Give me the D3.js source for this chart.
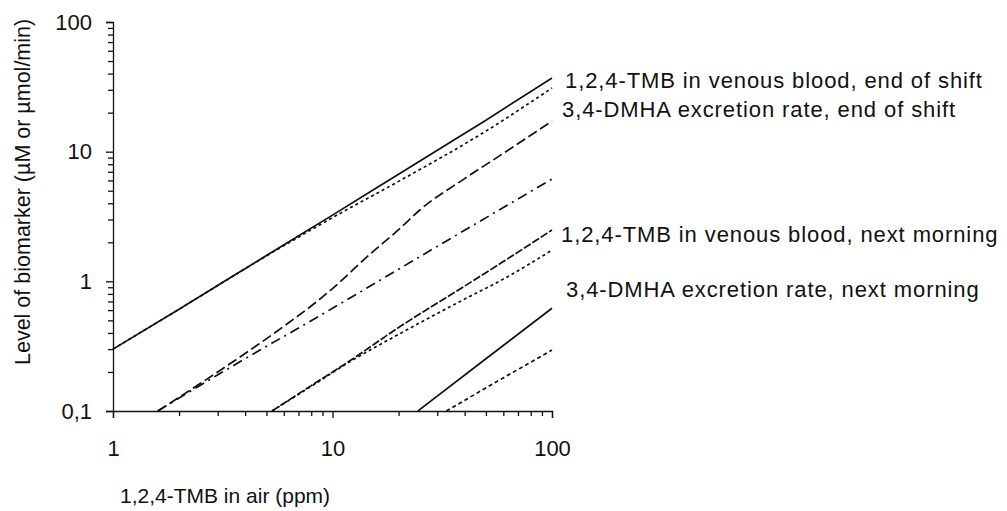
<!DOCTYPE html>
<html lang="en">
<head>
    <meta charset="UTF-8">
    <title>Biomarker levels vs 1,2,4-TMB in air</title>
    <script src="https://d3js.org/d3.v7.min.js"></script>
    <style>
        body {
            margin: 0;
            background: #fff;
        }
        text {
            font-family: "Liberation Sans", Arial, sans-serif;
            fill: #111;
        }
        .axis path, .axis line {
            stroke: #111;
            stroke-width: 1.3px;
        }
        .axis text {
            font-size: 22px;
        }
        .curve {
            fill: none;
            stroke: #111;
            stroke-width: 1.7px;
        }
        .label {
            font-size: 22px;
            letter-spacing: 0.9px;
        }
    </style>
</head>
<body>
    <div id="chart"></div>
    <script>
        // tick values and labels
        const xTicks = [1, 10, 100];
        const xTickLabels = ["1", "10", "100"];
        const yTicks = [0.1, 1, 10, 100];
        const yTickLabels = ["0,1", "1", "10", "100"];

        // curves (ppm in air -> biomarker level)
        const tmbEndX = [1, 2, 5, 10, 20, 50, 100];
        const tmbEndY = [0.3, 0.61, 1.58, 3.24, 6.7, 17.5, 37];
        const tmbEnd2X = [1, 2, 5, 10, 20, 50, 100];
        const tmbEnd2Y = [0.3, 0.61, 1.57, 3.1, 5.9, 14.4, 31];
        const dmhaEndX = [1.6, 3, 6, 8.5, 10, 15, 20, 25, 40, 60, 100];
        const dmhaEndY = [0.1, 0.2, 0.45, 0.7, 0.88, 1.65, 2.5, 3.55, 6.2, 9.7, 17.2];
        const dmhaEnd2X = [1.6, 3, 10, 30, 100];
        const dmhaEnd2Y = [0.1, 0.19, 0.62, 1.86, 6.15];
        const tmbMornX = [5.3, 8, 12, 20, 40, 60, 100];
        const tmbMornY = [0.1, 0.157, 0.244, 0.44, 0.92, 1.42, 2.49];
        const tmbMorn2X = [5.3, 8, 12, 20, 40, 60, 100];
        const tmbMorn2Y = [0.1, 0.155, 0.24, 0.39, 0.73, 1.04, 1.74];
        const dmhaMornX = [24.5, 50, 100];
        const dmhaMornY = [0.1, 0.253, 0.62];
        const dmhaMorn2X = [33, 60, 100];
        const dmhaMorn2Y = [0.1, 0.18, 0.295];

        const curveLabels = [
            "1,2,4-TMB in venous blood, end of shift",
            "3,4-DMHA excretion rate, end of shift",
            "1,2,4-TMB in venous blood, next morning",
            "3,4-DMHA excretion rate, next morning"
        ];

        const width = 1007, height = 511;

        const svg = d3.select("#chart").append("svg")
            .attr("width", width)
            .attr("height", height);

        const x = d3.scaleLog().domain([1, 100]).range([113, 552]);
        const y = d3.scaleLog().domain([0.1, 100]).range([411, 22]);

        // every integer tick per decade, labels only on the decades
        const minor = base => [1, 2, 3, 4, 5, 6, 7, 8, 9].map(k => k * base);
        const xAll = [...minor(1), ...minor(10), 100];
        const yAll = [...minor(0.1), ...minor(1), ...minor(10), 100];

        const xAxis = d3.axisBottom(x)
            .tickValues(xAll)
            .tickSizeOuter(0)
            .tickSize(7)
            .tickPadding(22)
            .tickFormat(d => {
                const i = xTicks.findIndex(t => Math.abs(t - d) < 1e-9);
                return i >= 0 ? xTickLabels[i] : "";
            });

        const yAxis = d3.axisLeft(y)
            .tickValues(yAll)
            .tickSizeOuter(0)
            .tickSize(7)
            .tickPadding(14)
            .tickFormat(d => {
                const i = yTicks.findIndex(t => Math.abs(t - d) / t < 1e-6);
                return i >= 0 ? yTickLabels[i] : "";
            });

        const gx = svg.append("g")
            .attr("class", "axis")
            .attr("transform", `translate(0,${y(0.1)})`)
            .call(xAxis);
        gx.selectAll(".tick line")
            .attr("y2", d => xTicks.some(t => Math.abs(t - d) < 1e-9) ? 7 : 5);
        gx.selectAll(".tick text").attr("dy", "0.71em");

        const gy = svg.append("g")
            .attr("class", "axis")
            .attr("transform", `translate(${x(1)},0)`)
            .call(yAxis);
        gy.selectAll(".tick line")
            .attr("x2", d => yTicks.some(t => Math.abs(t - d) / t < 1e-6) ? -7 : -5);

        // curves
        const line = d3.line()
            .curve(d3.curveMonotoneX)
            .x(d => x(d[0]))
            .y(d => y(d[1]));

        const curves = [
            { xs: tmbEndX, ys: tmbEndY, dash: null },
            { xs: tmbEnd2X, ys: tmbEnd2Y, dash: "3,3" },
            { xs: dmhaEndX, ys: dmhaEndY, dash: "10,4" },
            { xs: dmhaEnd2X, ys: dmhaEnd2Y, dash: "10,5,2,5" },
            { xs: tmbMornX, ys: tmbMornY, dash: "8,2" },
            { xs: tmbMorn2X, ys: tmbMorn2Y, dash: "3,3" },
            { xs: dmhaMornX, ys: dmhaMornY, dash: null },
            { xs: dmhaMorn2X, ys: dmhaMorn2Y, dash: "4,3" }
        ];

        svg.append("g")
            .selectAll("path")
            .data(curves)
            .enter().append("path")
            .attr("class", "curve")
            .attr("stroke-dasharray", d => d.dash)
            .attr("d", d => line(d.xs.map((v, i) => [v, d.ys[i]])));

        // labels at the right end of the curves
        const labelPos = [[565, 88], [562, 117], [561, 242], [566, 297]];
        svg.append("g")
            .selectAll("text")
            .data(curveLabels)
            .enter().append("text")
            .attr("class", "label")
            .attr("x", (d, i) => labelPos[i][0])
            .attr("y", (d, i) => labelPos[i][1])
            .text(d => d);

        // axis titles
        svg.append("text")
            .attr("x", 120)
            .attr("y", 503)
            .style("font-size", "21px")
            .text("1,2,4-TMB in air (ppm)");

        svg.append("text")
            .attr("transform", "translate(30,365) rotate(-90)")
            .style("font-size", "21.5px")
            .text("Level of biomarker (µM or µmol/min)");
    </script>
</body>
</html>
